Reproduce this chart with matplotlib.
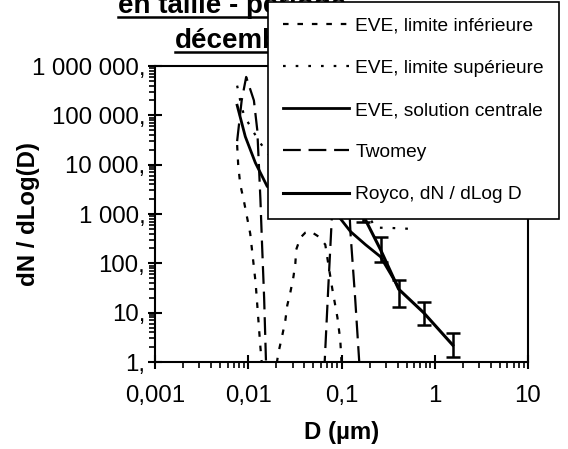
import numpy as np
import matplotlib
matplotlib.use("Agg")
import matplotlib.pyplot as plt
from matplotlib.lines import Line2D
from matplotlib.ticker import FixedLocator, FixedFormatter, LogLocator, NullFormatter

plt.rcParams['font.family'] = ['Liberation Sans', 'DejaVu Sans']

# EVE, limite inferieure
d_inf = [0.0076, 0.0078, 0.0082, 0.009, 0.0105, 0.012, 0.0135, 0.016,
         0.021, 0.0232, 0.025, 0.0262, 0.0283, 0.0305, 0.032, 0.0327,
         0.0362, 0.041, 0.046, 0.0566, 0.067, 0.072, 0.08, 0.0904, 0.097, 0.1, 0.11]
n_inf = [2.5e4, 1e4, 4000, 1800, 400, 40, 2, 0.05,
         1.5, 3.5, 7, 14, 26, 53, 100, 190,
         330, 420, 450, 350, 240, 100, 29, 8, 2.8, 1, 0.3]

# EVE, limite superieure
d_sup = [0.0076, 0.0082, 0.009, 0.0105, 0.013, 0.02, 0.05, 0.1, 0.18, 0.23, 0.35, 0.55]
n_sup = [4e5, 2e5, 1e5, 6e4, 3e4, 1e4, 5000, 3000, 1200, 530, 520, 500]

# EVE, solution centrale
d_cen = [0.0076, 0.0093, 0.0119, 0.016, 0.025, 0.05, 0.09, 0.125, 0.181, 0.262, 0.4]
n_cen = [1.6e5, 3.7e4, 1.1e4, 3600, 2500, 1800, 970, 440, 239, 136, 35]

# Twomey
d_two = [0.0076, 0.0085, 0.0095, 0.0115, 0.0125, 0.013, 0.0135, 0.014, 0.0148, 0.0155,
         0.02, 0.05, 0.066, 0.072, 0.08, 0.1, 0.12, 0.125, 0.14, 0.155]
n_two = [3e4, 2e5, 6e5, 2e5, 5e4, 1e4, 2000, 300, 20, 1,
         1e-3, 1e-3, 1, 30, 1500, 8000, 2000, 400, 20, 1]

# Royco, dN / dLog D with error bars
d_roy = np.array([0.168, 0.262, 0.41, 0.76, 1.56])
n_roy = np.array([1000, 190, 30, 10, 2.2])
n_roy_lo = np.array([700, 108, 13, 5.6, 1.26])
n_roy_hi = np.array([1500, 347, 46, 16.5, 3.9])

labels = ["EVE, limite inférieure", "EVE, limite supérieure",
          "EVE, solution centrale", "Twomey", "Royco, dN / dLog D"]
x_ticks = [0.001, 0.01, 0.1, 1, 10]
x_ticklabels = ["0,001", "0,01", "0,1", "1", "10"]
y_ticks = [1, 10, 100, 1e3, 1e4, 1e5, 1e6]
y_ticklabels = ["1,", "10,", "100,", "1 000,", "10 000,", "100 000,", "1 000 000,"]

W, H = 568, 449
fig = plt.figure(figsize=(W / 100, H / 100), dpi=100)
ax = fig.add_axes([155 / W, 1 - 362 / H, (528 - 155) / W, (362 - 66) / H])

l1, = ax.plot(d_inf, n_inf, color='k', lw=1.6, ls=(0, (2.5, 4)))
l2, = ax.plot(d_sup, n_sup, color='k', lw=1.6, ls=(0, (1.2, 4.5)))
l3, = ax.plot(d_cen, n_cen, color='k', lw=2.0, ls='-')
l4, = ax.plot(d_two, n_two, color='k', lw=1.6, ls=(0, (8, 3.5)))
l5, = ax.plot(d_roy, n_roy, color='k', lw=2.2, ls='-')
ax.errorbar(d_roy, n_roy, yerr=[n_roy - n_roy_lo, n_roy_hi - n_roy], fmt='none',
            ecolor='k', elinewidth=1.8, capsize=5, capthick=1.8)

ax.set_xscale('log')
ax.set_yscale('log')
ax.set_xlim(0.001, 10)
ax.set_ylim(1, 1e6)

ax.xaxis.set_major_locator(FixedLocator(x_ticks))
ax.xaxis.set_major_formatter(FixedFormatter(x_ticklabels))
ax.yaxis.set_major_locator(FixedLocator(y_ticks))
ax.yaxis.set_major_formatter(FixedFormatter(y_ticklabels))
for a in (ax.xaxis, ax.yaxis):
    a.set_minor_locator(LogLocator(base=10, subs=np.arange(2, 10), numticks=20))
    a.set_minor_formatter(NullFormatter())

ax.tick_params(which='major', direction='inout', length=10, width=1.5, labelsize=17.3)
ax.tick_params(which='minor', direction='out', length=4.5, width=1.2)
ax.tick_params(axis='x', which='major', pad=11.5)
ax.tick_params(axis='y', which='major', pad=2)
for s in ax.spines.values():
    s.set_linewidth(1.5)

ax.set_xlabel("D (µm)", fontsize=17.3, fontweight='bold')
ax.set_ylabel("dN / dLog(D)", fontsize=17.3, fontweight='bold')
ax.xaxis.set_label_coords(0.5, -0.2)
ax.yaxis.set_label_coords((40 - 155) / 373, 0.5)

# title (partly hidden behind the legend, top line cut by the page edge)
t1 = fig.text(118 / W, 1 - 13 / H, "en taille - période", fontsize=20, fontweight='bold',
              ha='left', va='baseline')
t2 = fig.text(175 / W, 1 - 48 / H, "décembre", fontsize=20, fontweight='bold',
              ha='left', va='baseline')

leg = fig.legend([l1, l2, l3, l4, l5], labels, loc='upper left',
                 bbox_to_anchor=(268 / W, 1 - 2 / H), bbox_transform=fig.transFigure,
                 frameon=True, fancybox=False, edgecolor='black', framealpha=1,
                 fontsize=13.8, handlelength=3.45, handletextpad=0.3,
                 labelspacing=1.29, borderpad=0.8, borderaxespad=0)
leg.get_frame().set_linewidth(1.2)
leg.set_zorder(10)

fig.canvas.draw()
r = fig.canvas.get_renderer()
for t in (t1, t2):
    bb = t.get_window_extent(r)
    yy = bb.y0 + 2
    fig.add_artist(Line2D([bb.x0 / fig.bbox.width, bb.x1 / fig.bbox.width],
                          [yy / fig.bbox.height, yy / fig.bbox.height],
                          transform=fig.transFigure, color='k', lw=1.8, zorder=3))

fig.savefig("out.png", dpi=100)
